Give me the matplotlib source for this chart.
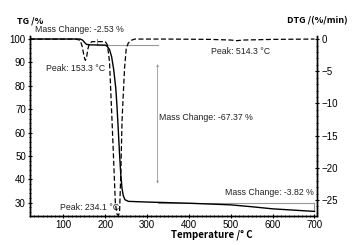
import matplotlib
matplotlib.use('Agg')
import numpy as np
from matplotlib import pyplot as plt
from matplotlib.ticker import MultipleLocator

# TG曲線 (実線)
tg_temp = [20, 140, 146, 150, 155, 165, 200, 205, 210, 215, 220, 225, 228, 231, 234,
           237, 240, 243, 247, 255, 300, 400, 500, 550, 600, 700]
tg_mass = [100, 100, 99.5, 98.6, 97.7, 97.5, 97.4, 96.8, 95.5, 92.5, 87, 79, 71, 61, 51,
           42, 36, 33, 31.3, 30.6, 30.3, 29.8, 29.1, 28.3, 27.4, 26.3]

# DTG曲線 (破線)
dtg_temp = [20, 130, 140, 145, 149, 152, 155, 158, 162, 168, 200, 205, 210, 216, 220, 224,
            228, 231, 234, 237, 240, 243, 246, 250, 255, 262, 270, 350, 450, 500, 514,
            530, 600, 700]
dtg_rate = [0, 0, -0.2, -1.2, -2.6, -3.3, -3.0, -1.6, -0.7, -0.4, -0.4, -0.9, -3.5, -12.6,
            -19, -25.5, -27.2, -27.4, -27.0, -21, -12.6, -8.5, -4.5, -1.5, -0.6, -0.2, 0,
            0, -0.05, -0.15, -0.25, -0.15, -0.05, 0]

# 注釈テキスト (x, y, 文字列, 揃え)
texts = [
    (32, 104.2, 'Mass Change: -2.53 %', 'left'),
    (58, 87.6, 'Peak: 153.3 °C', 'left'),
    (452, 94.8, 'Peak: 514.3 °C', 'left'),
    (329, 66.6, 'Mass Change: -67.37 %', 'left'),
    (698, 34.2, 'Mass Change: -3.82 %', 'right'),
    (92, 28.1, 'Peak: 234.1 °C', 'left'),
]

label_font = 'Liberation Sans'
head_font = ['Noto Sans CJK JP', 'DejaVu Sans']

fig = plt.figure(figsize=(3.59, 2.45), dpi=100)
ax = fig.add_axes([0.0836, 0.118, 0.7994, 0.737])
ax2 = ax.twinx()

ax.plot(tg_temp, tg_mass, color='black', lw=1.0, zorder=3)
ax2.plot(dtg_temp, dtg_rate, color='black', lw=0.9, dashes=(4, 2))

# 質量変化のマーカー (灰色)
gray = '#999999'
ax.plot([180, 180], [100, 97.47], color=gray, lw=0.8)
ax.plot([180, 325], [97.47, 97.47], color=gray, lw=0.8)
ax.annotate('', xy=(325, 37), xytext=(325, 90.5),
            arrowprops=dict(arrowstyle='<|-|>', color=gray, lw=0.6,
                            mutation_scale=3))
ax.plot([325, 700], [30.1, 30.1], color=gray, lw=0.8)
ax.plot([700, 700], [30.1, 26.3], color=gray, lw=0.8)

for x, y, s, ha in texts:
    ax.text(x, y, s, fontsize=6.3, family=label_font, color='#222222',
            ha=ha, va='center')

ax.set_xlim(20, 706)
ax.set_ylim(24.3, 101.5)
ax2.set_ylim(-27.5, 0.55)

ax.xaxis.set_major_locator(MultipleLocator(100))
ax.xaxis.set_minor_locator(MultipleLocator(10))
ax.yaxis.set_major_locator(MultipleLocator(10))
ax.yaxis.set_minor_locator(MultipleLocator(2))
ax2.yaxis.set_major_locator(MultipleLocator(5))
ax2.yaxis.set_minor_locator(MultipleLocator(1))

for a in (ax, ax2):
    a.spines['top'].set_visible(False)
    for sp in a.spines.values():
        sp.set_linewidth(1.0)
    a.tick_params(which='major', length=3, width=0.8, labelsize=7, pad=1.5)
    a.tick_params(which='minor', length=1.5, width=0.5)
    for lab in a.get_xticklabels() + a.get_yticklabels():
        lab.set_family(label_font)
ax.tick_params(axis='x', which='both', direction='inout')
ax.tick_params(axis='y', which='both', direction='inout')
ax2.tick_params(axis='y', which='both', direction='inout')
ax.set_xticks([100, 200, 300, 400, 500, 600, 700])
ax.set_xticklabels(['100', '200', '300', '400', '500', '600', '700'], family=label_font)

fig.text(0.047, 0.915, 'TG /%', fontsize=6.5, weight='bold', family=head_font,
         va='center', ha='left')
fig.text(0.80, 0.915, 'DTG /(%/min)', fontsize=6.5, weight='bold', family=head_font,
         va='center', ha='left')
fig.text(0.59, 0.04, 'Temperature /° C', fontsize=7, weight='bold', family=head_font,
         va='center', ha='center')

fig.savefig('out.png', dpi=100)
